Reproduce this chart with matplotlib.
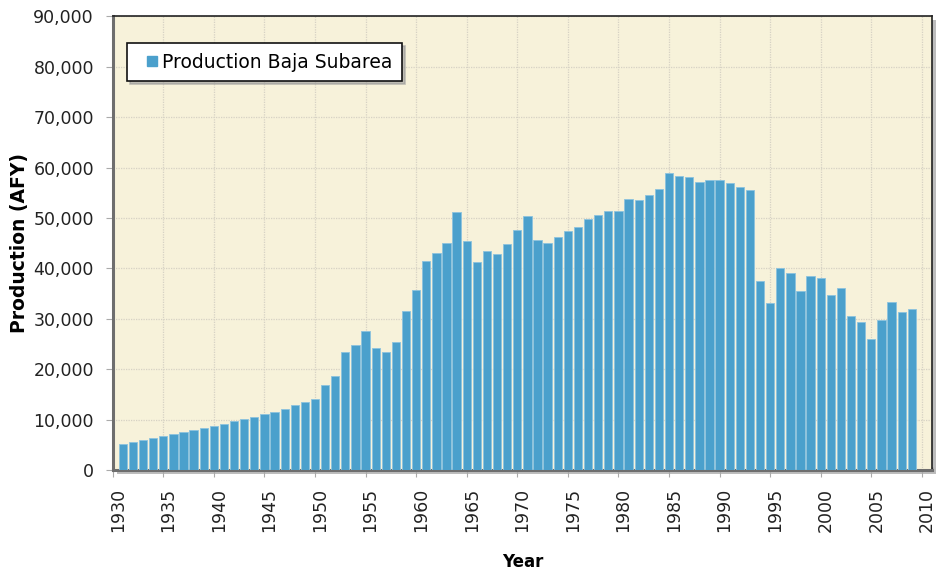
import matplotlib
matplotlib.use("Agg")
import matplotlib.pyplot as plt
import matplotlib.transforms as mtransforms
from matplotlib.patches import Rectangle
from matplotlib.lines import Line2D
from matplotlib.ticker import FuncFormatter, MultipleLocator

years = list(range(1931, 2010))
production = [
    5200, 5600, 6000, 6400, 6800, 7100, 7500, 7900, 8300, 8700,
    9100, 9700, 10100, 10500, 11100, 11600, 12100, 12800, 13400, 14100,
    16800, 18700, 23400, 24800, 27500, 24200, 23400, 25400, 31500, 35800,
    41500, 43000, 45000, 51200, 45400, 41300, 43500, 42900, 44800, 47700,
    50300, 45600, 45000, 46200, 47400, 48300, 49700, 50500, 51400, 51300,
    53800, 53600, 54600, 55700, 58900, 58300, 58100, 57100, 57500, 57500,
    56900, 56100, 55500, 37500, 33200, 40000, 39100, 35500, 38400, 38100,
    34800, 36200, 30500, 29300, 26000, 29700, 33400, 31300, 31900,
]
series_name = "Production Baja Subarea"
x_ticks = list(range(1930, 2011, 5))
y_ticks = list(range(0, 90001, 10000))

bar_color = '#4ba0cc'

plt.rcParams['font.family'] = ['DejaVu Sans']

fig = plt.figure(figsize=(9.40, 5.73), dpi=100)
fig.patch.set_facecolor('white')
left, bottom, right, top = 0.1199, 0.1798, 0.9915, 0.9714
ax = fig.add_axes([left, bottom, right - left, top - bottom])
ax.set_zorder(2)

# shadow behind plot area
shadow = Rectangle((left + 4/940, bottom - 4/573), right - left, top - bottom,
                   transform=fig.transFigure, facecolor='#bdbdbd', edgecolor='none',
                   zorder=-1)
fig.patches.append(shadow)

ax.set_facecolor('#f7f2da')
ax.bar(years, production, width=0.82, color=bar_color, edgecolor='#8cc3de',
       linewidth=0.6, zorder=3)

ax.set_xlim(1930, 2011)
ax.set_ylim(0, 90000)
ax.set_xticks(x_ticks)
ax.xaxis.set_minor_locator(MultipleLocator(1))
ax.set_yticks(y_ticks)
ax.yaxis.set_major_formatter(FuncFormatter(lambda v, p: f"{int(v):,}"))

ax.grid(True, which='major', color='#d6d2c4', linestyle=(0, (1, 1)), linewidth=0.9, zorder=0)
ax.set_axisbelow(True)

for s in ['top', 'right']:
    ax.spines[s].set_color('#222222')
    ax.spines[s].set_linewidth(1.2)
for s in ['left', 'bottom']:
    ax.spines[s].set_color('#6e6e6e')
    ax.spines[s].set_linewidth(2.2)

ax.tick_params(axis='y', which='major', length=5, width=0.8, color='#aaaaaa',
               labelsize=12.5, labelcolor='#222222', pad=8.5)
ax.tick_params(axis='x', which='major', length=5, width=0.8, color='#aaaaaa',
               labelsize=12.5, labelcolor='#222222', pad=8, labelrotation=90)
ax.tick_params(axis='x', which='minor', length=2.5, width=1.0, color='#555555',
               direction='in')

offset = mtransforms.ScaledTranslation(5/100, 0, fig.dpi_scale_trans)
for lbl in ax.get_xticklabels():
    lbl.set_transform(lbl.get_transform() + offset)

ax.set_xlabel('Year', fontsize=12, fontweight='bold', labelpad=15)
ax.set_ylabel('Production (AFY)', fontsize=13.5, fontweight='bold', labelpad=3)

handle = Line2D([], [], marker='s', linestyle='none', markersize=6.5,
                markerfacecolor=bar_color, markeredgecolor=bar_color)
leg = ax.legend([handle], [series_name], loc='upper left',
                bbox_to_anchor=(0.0175, 0.941), fontsize=13.5,
                frameon=True, fancybox=False, shadow={'color': '#999999', 'alpha': 0.6},
                handlelength=1.62, handletextpad=-0.25,
                borderpad=0.5, borderaxespad=0)
leg.get_frame().set_edgecolor('#111111')
leg.get_frame().set_linewidth(1.2)
leg.get_frame().set_facecolor('white')
leg.get_frame().set_alpha(1)

fig.savefig('out.png', dpi=100)
